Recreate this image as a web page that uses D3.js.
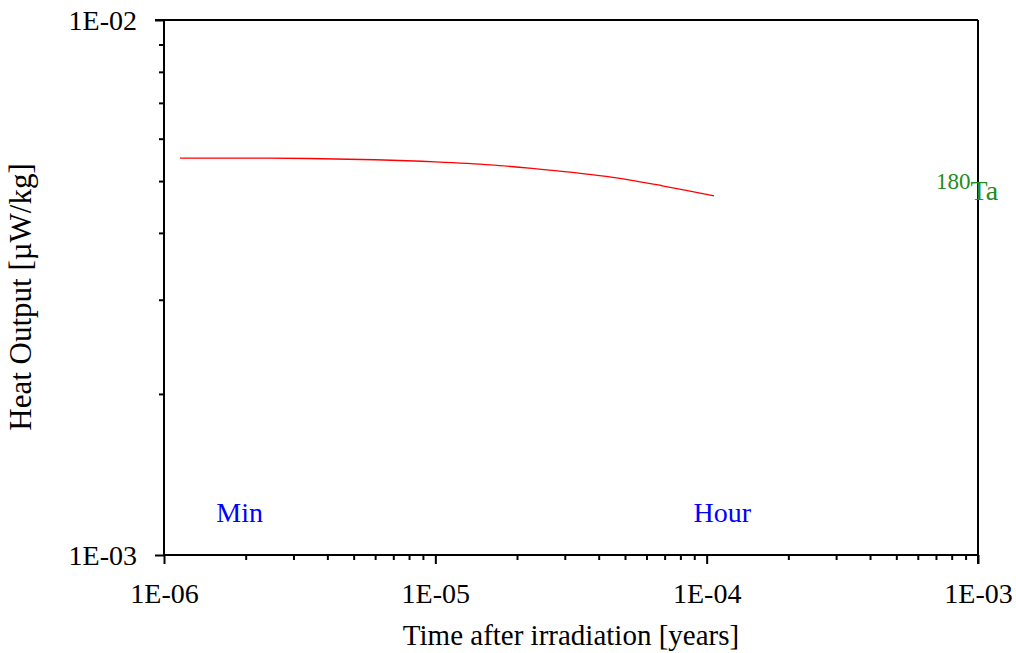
<!DOCTYPE html>
<html><head><meta charset="utf-8">
<script src="https://cdn.jsdelivr.net/npm/d3@7"></script>
<style>body{margin:0;background:#fff}svg{display:block}</style>
</head><body>
<svg id="c" width="1016" height="653"></svg>
<script>
const timeYears = [1.146e-6, 2.0e-6, 3.42e-6, 6.0e-6, 1.0e-5, 1.6e-5, 2.27e-5, 3.2e-5, 4.26e-5, 5.5e-5, 6.85e-5, 8.5e-5, 1.065e-4];
const heatOutput = [5.52e-3, 5.52e-3, 5.51e-3, 5.48e-3, 5.43e-3, 5.36e-3, 5.28e-3, 5.19e-3, 5.10e-3, 5.00e-3, 4.90e-3, 4.80e-3, 4.69e-3];
const xTickLabels = ["1E-06", "1E-05", "1E-04", "1E-03"];
const xTickValues = [1e-6, 1e-5, 1e-4, 1e-3];
const yTickLabels = ["1E-03", "1E-02"];
const yTickValues = [1e-3, 1e-2];
const markerLabels = ["Min", "Hour"];
const markerTimes = [1.901e-6, 1.141e-4];
const isotopeMass = "180";
const isotopeSymbol = "Ta";

const svg = d3.select("#c");
const L = 164, R = 978, T = 20, B = 555;
const x = d3.scaleLog().domain([1e-6, 1e-3]).range([L, R]);
const y = d3.scaleLog().domain([1e-3, 1e-2]).range([B, T]);
const font = "'Liberation Serif','Times New Roman',serif";
const FS = 28;

// minor tick values
const xMinor = [], yMinor = [];
for (let d = 1e-6; d < 1e-3; d *= 10) for (let k = 2; k <= 9; k++) xMinor.push(d * k);
for (let k = 2; k <= 9; k++) yMinor.push(1e-3 * k);

// frame (top & right)
svg.append("line").attr("x1", L - 9).attr("x2", R).attr("y1", T).attr("y2", T).attr("stroke", "#000").attr("stroke-width", 2);
svg.append("line").attr("x1", R).attr("x2", R).attr("y1", T).attr("y2", B + 9).attr("stroke", "#000").attr("stroke-width", 2);

// x axis
const gx = svg.append("g").attr("transform", `translate(0,${B})`);
gx.call(d3.axisBottom(x).tickValues(xMinor).tickSize(5).tickFormat(""));
gx.call(g => g.append("g").call(d3.axisBottom(x).tickValues(xTickValues).tickSize(9).tickFormat((d, i) => xTickLabels[i])));
gx.selectAll("path.domain").attr("stroke-width", 2).attr("d", `M${L},0H${R}`);
gx.selectAll("line").attr("stroke-width", 2);
gx.selectAll("text").attr("font-family", font).attr("font-size", FS).attr("fill", "#000").attr("dy", "1.29em");

// y axis
const gy = svg.append("g").attr("transform", `translate(${L},0)`);
gy.call(d3.axisLeft(y).tickValues(yMinor).tickSize(5).tickFormat(""));
gy.call(g => g.append("g").call(d3.axisLeft(y).tickValues(yTickValues).tickSize(9).tickFormat((d, i) => yTickLabels[i])));
gy.selectAll("path.domain").attr("stroke-width", 2).attr("d", `M0,${T}V${B}`);
gy.selectAll("line").attr("stroke-width", 2);
gy.selectAll("text").attr("font-family", font).attr("font-size", FS).attr("fill", "#000").attr("x", -27).attr("dy", "0.35em");

// data line
const data = timeYears.map((t, i) => [t, heatOutput[i]]);
svg.append("path").datum(data)
  .attr("fill", "none").attr("stroke", "#ff0000").attr("stroke-width", 1.3)
  .attr("d", d3.line().x(d => x(d[0])).y(d => y(d[1])).curve(d3.curveMonotoneX));

// markers
svg.selectAll("text.mk").data(markerLabels).enter().append("text")
  .attr("class", "mk")
  .attr("x", (d, i) => x(markerTimes[i])).attr("y", 522)
  .attr("text-anchor", "middle").attr("font-family", font).attr("font-size", FS)
  .attr("fill", "#0000ff").text(d => d);

// isotope label
const iso = svg.append("text").attr("x", 936).attr("y", 200).attr("font-family", font).attr("fill", "#228b22");
iso.append("tspan").attr("font-size", 23).attr("dy", -11).text(isotopeMass);
iso.append("tspan").attr("font-size", FS).attr("dy", 11).text(isotopeSymbol);

// axis titles
svg.append("text").attr("x", 571).attr("y", 645).attr("text-anchor", "middle")
  .attr("font-family", font).attr("font-size", 29).text("Time after irradiation [years]");
svg.append("text").attr("transform", `translate(31,297) rotate(-90)`).attr("text-anchor", "middle")
  .attr("font-family", font).attr("font-size", 31).text("Heat Output [µW/kg]");
</script>
</body></html>
